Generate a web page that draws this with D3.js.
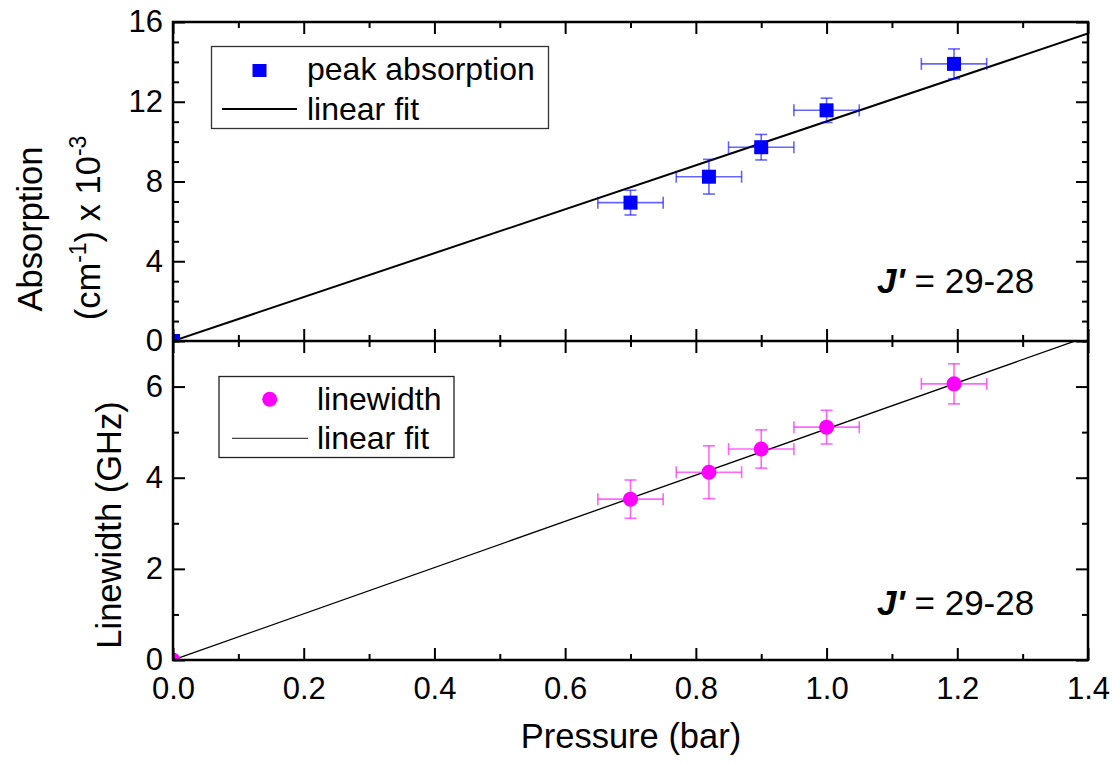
<!DOCTYPE html>
<html><head><meta charset="utf-8">
<script src="https://cdn.jsdelivr.net/npm/d3@7"></script>
<style>body{margin:0;background:#fff}svg{display:block}text{font-family:Arial,"Liberation Sans",sans-serif;fill:#000}</style>
</head><body><svg id="c" width="1113" height="764"></svg>
<script>
const pressure = [0, 0.70, 0.82, 0.90, 1.00, 1.195];
const pressureErr = [0, 0.05, 0.05, 0.05, 0.05, 0.05];
const absorption = [0, 6.94, 8.24, 9.72, 11.57, 13.9];
const absorptionErr = [0, 0.62, 0.87, 0.64, 0.61, 0.75];
const linewidth = [0, 3.53, 4.12, 4.63, 5.11, 6.06];
const linewidthErr = [0, 0.42, 0.58, 0.42, 0.37, 0.44];
const absorptionFit = [[0, 0], [1.4, 15.42]];
const linewidthFit = [[0, 0], [1.4, 7.1]];
const xTicks = [0, 0.2, 0.4, 0.6, 0.8, 1.0, 1.2, 1.4];
const xMinor = [0.1, 0.3, 0.5, 0.7, 0.9, 1.1, 1.3];
const absTicks = [0, 4, 8, 12, 16];
const absMinor = [1,2,3,5,6,7,9,10,11,13,14,15];
const lwTicks = [0, 2, 4, 6];
const lwMinor = [1, 3, 5, 7];

const svg = d3.select("#c");
const L = 173, R = 1088, T = 22, M = 341, B = 660;
const x = d3.scaleLinear().domain([0, 1.4]).range([L, R]);
const yA = d3.scaleLinear().domain([0, 16]).range([M, T]);
const yL = d3.scaleLinear().domain([0, 7]).range([B, M]);

const defs = svg.append("defs");
defs.append("clipPath").attr("id","clipA").append("rect").attr("x",L).attr("y",T).attr("width",R-L).attr("height",M-T);
defs.append("clipPath").attr("id","clipL").append("rect").attr("x",L).attr("y",M).attr("width",R-L).attr("height",B-M);

function panel(y, top, bottom, major, minor, showX){
  const g = svg.append("g");
  const mk = (ax, tr, vals, size, labels) => {
    const a = g.append("g").attr("transform", tr).call(ax.tickValues(vals).tickSize(size).tickSizeOuter(0).tickPadding(8)
      .tickFormat(labels ? labels : () => ""));
    a.select(".domain").remove();
    a.selectAll("line").attr("stroke","#000").attr("stroke-width",2);
    return a;
  };
  const bx = mk(d3.axisBottom(x), `translate(0,${bottom})`, xTicks, -12, showX ? d3.format(".1f") : null);
  mk(d3.axisBottom(x), `translate(0,${bottom})`, xMinor, -6, null);
  mk(d3.axisTop(x), `translate(0,${top})`, xTicks, -12, null);
  mk(d3.axisTop(x), `translate(0,${top})`, xMinor, -6, null);
  const ly = mk(d3.axisLeft(y), `translate(${L},0)`, major, -12, d3.format("d"));
  mk(d3.axisLeft(y), `translate(${L},0)`, minor, -6, null);
  mk(d3.axisRight(y), `translate(${R},0)`, major, -12, null);
  mk(d3.axisRight(y), `translate(${R},0)`, minor, -6, null);
  ly.selectAll("text").attr("font-size", 31).attr("dx", -2);
  bx.selectAll("text").attr("font-size", 31).attr("dy", "1em");
  return g;
}

function drawData(y, vals, errs, fit, clip, color, ecolor, shape, fitW){
  const g = svg.append("g").attr("clip-path", `url(#${clip})`);
  g.append("path").datum(fit).attr("d", d3.line().x(d=>x(d[0])).y(d=>y(d[1])))
    .attr("stroke","#000").attr("stroke-width",fitW).attr("fill","none");
  const pts = pressure.map((p,i)=>({p, v: vals[i], ex: pressureErr[i], ey: errs[i]})).filter(d=>d.ex>0);
  const eb = g.append("g").attr("stroke", ecolor).attr("stroke-width",1.6).attr("fill","none");
  pts.forEach(d=>{
    const cx = x(d.p), cy = y(d.v), x0 = x(d.p-d.ex), x1 = x(d.p+d.ex), y0 = y(d.v-d.ey), y1 = y(d.v+d.ey);
    eb.append("line").attr("x1",x0).attr("x2",x1).attr("y1",cy).attr("y2",cy);
    eb.append("line").attr("x1",x0).attr("x2",x0).attr("y1",cy-6).attr("y2",cy+6);
    eb.append("line").attr("x1",x1).attr("x2",x1).attr("y1",cy-6).attr("y2",cy+6);
    eb.append("line").attr("x1",cx).attr("x2",cx).attr("y1",y0).attr("y2",y1);
    eb.append("line").attr("x1",cx-6).attr("x2",cx+6).attr("y1",y0).attr("y2",y0);
    eb.append("line").attr("x1",cx-6).attr("x2",cx+6).attr("y1",y1).attr("y2",y1);
  });
  const all = pressure.map((p,i)=>({p, v: vals[i]}));
  if (shape === "square") {
    g.selectAll("rect.m").data(all).join("rect").attr("class","m")
      .attr("x", d=>x(d.p)-7).attr("y", d=>y(d.v)-7).attr("width",14).attr("height",14).attr("fill",color);
  } else {
    g.selectAll("circle.m").data(all).join("circle").attr("class","m")
      .attr("cx", d=>x(d.p)).attr("cy", d=>y(d.v)).attr("r",7.5).attr("fill",color);
  }
}

drawData(yA, absorption, absorptionErr, absorptionFit, "clipA", "#0000ff", "rgba(0,0,255,0.6)", "square", 2);
drawData(yL, linewidth, linewidthErr, linewidthFit, "clipL", "#ff00ff", "rgba(255,0,255,0.6)", "circle", 1.3);

panel(yA, T, M, absTicks, absMinor, false);
panel(yL, M, B, lwTicks, lwMinor, true);

svg.append("rect").attr("x",L).attr("y",T).attr("width",R-L).attr("height",B-T).attr("fill","none").attr("stroke","#000").attr("stroke-width",2.5);
svg.append("line").attr("x1",L).attr("x2",R).attr("y1",M).attr("y2",M).attr("stroke","#000").attr("stroke-width",2.5);

const lg1 = svg.append("g");
lg1.append("rect").attr("x",211.5).attr("y",46.5).attr("width",337).attr("height",82).attr("fill","#fff").attr("stroke","#333").attr("stroke-width",1.3);
lg1.append("rect").attr("x",252.5).attr("y",64).attr("width",14).attr("height",13).attr("fill","#0000ff");
lg1.append("text").attr("x",307).attr("y",80).attr("font-size",32).text("peak absorption");
lg1.append("line").attr("x1",222).attr("x2",297).attr("y1",109).attr("y2",109).attr("stroke","#000").attr("stroke-width",2);
lg1.append("text").attr("x",307).attr("y",119.5).attr("font-size",32).text("linear fit");

const lg2 = svg.append("g");
lg2.append("rect").attr("x",219).attr("y",376.5).attr("width",235).attr("height",81).attr("fill","#fff").attr("stroke","#222").attr("stroke-width",1.3);
lg2.append("circle").attr("cx",269.7).attr("cy",399.3).attr("r",7.5).attr("fill","#ff00ff");
lg2.append("text").attr("x",317).attr("y",410).attr("font-size",32).text("linewidth");
lg2.append("line").attr("x1",232).attr("x2",308).attr("y1",438.3).attr("y2",438.3).attr("stroke","#444").attr("stroke-width",1.3);
lg2.append("text").attr("x",317).attr("y",448.5).attr("font-size",32).text("linear fit");

[[293.3],[615]].forEach(([yy])=>{
  const t = svg.append("text").attr("x",877).attr("y",yy).attr("font-size",35);
  t.append("tspan").attr("font-weight","bold").attr("font-style","italic").text("J'");
  t.append("tspan").text(" = 29-28");
});

svg.append("text").attr("x",631).attr("y",748).attr("text-anchor","middle").attr("font-size",34.5).text("Pressure (bar)");
svg.append("text").attr("transform","translate(121,525) rotate(-90)").attr("text-anchor","middle").attr("font-size",34.5).text("Linewidth (GHz)");
svg.append("text").attr("transform","translate(41.5,229) rotate(-90)").attr("text-anchor","middle").attr("font-size",34.5).text("Absorption");
const t2 = svg.append("text").attr("transform","translate(100,228) rotate(-90)").attr("text-anchor","middle").attr("font-size",34.5);
t2.append("tspan").text("(cm");
t2.append("tspan").attr("font-size",23).attr("dy",-14).text("-1");
t2.append("tspan").attr("dy",14).text(") x 10");
t2.append("tspan").attr("font-size",23).attr("dy",-14).text("-3");
</script></body></html>
